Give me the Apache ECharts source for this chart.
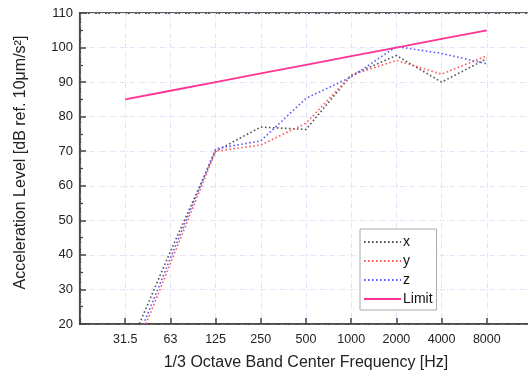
<!DOCTYPE html>
<html>
<head>
<meta charset="utf-8">
<script src="https://cdn.jsdelivr.net/npm/echarts@6/dist/echarts.min.js"></script>
<style>
  html, body { margin: 0; padding: 0; background: #fff; }
  #chart { width: 528px; height: 370px; }
</style>
</head>
<body>
<div id="chart"></div>
<script>
// octave band centre frequencies, x position = index in this list
const bands = ['31.5', '63', '125', '250', '500', '1000', '2000', '4000', '8000']

const xData = [10.5, 41, 70, 77, 76.3, 92, 97.7, 90, 96.8]
const yData = [5, 37.5, 70, 71.8, 78.1, 92, 96.3, 92.3, 97.6]
const zData = [7, 39, 70.7, 73, 85.3, 91.5, 100.3, 98.3, 95.3]
const limitData = [85, 87.5, 90, 92.5, 95, 97.5, 100, 102.5, 105]

const font = 'Liberation Sans, Arial, sans-serif'
const chart = echarts.init(document.getElementById('chart'))

const toPoints = arr => arr.map((v, i) => [i, v])

const dotted = (name, color, data) => ({
  name,
  type: 'line',
  data: toPoints(data),
  symbol: 'none',
  lineStyle: { color, width: 1.6, type: [1.6, 2.4] },
  itemStyle: { color }
})

// plot is cut off on the right in the original, so the grid runs a bit past the canvas
chart.setOption({
  animation: false,
  textStyle: { fontFamily: font },
  grid: {
    left: 80,
    width: 452,
    top: 13,
    bottom: 46,
    outerBoundsMode: 'none',
    show: true,
    borderColor: '#5a5a5a',
    borderWidth: 2.2
  },
  legend: {
    orient: 'vertical',
    left: 360,
    top: 229,
    padding: [6, 4, 4, 3],
    itemWidth: 37,
    itemHeight: 10,
    itemGap: 5,
    borderColor: '#aaa',
    borderWidth: 1,
    backgroundColor: '#fff',
    itemStyle: { opacity: 0 },
    textStyle: { fontSize: 14, color: '#111', padding: [0, 0, 0, -3] },
    data: ['x', 'y', 'z', 'Limit']
  },
  xAxis: {
    type: 'value',
    min: -1,
    max: 9,
    interval: 1,
    name: '1/3 Octave Band Center Frequency [Hz]',
    nameLocation: 'middle',
    nameGap: 31,
    nameTextStyle: { fontSize: 16, color: '#222' },
    axisLine: { onZero: false, lineStyle: { color: '#444', width: 1.5 } },
    axisTick: { inside: true, length: 6, lineStyle: { color: '#444', width: 1.5 } },
    axisLabel: {
      fontSize: 12.5,
      color: '#222',
      margin: 9,
      formatter: v => (v >= 0 && v < bands.length ? bands[v] : '')
    },
    splitLine: { show: true, lineStyle: { color: '#e2e2f8', width: 1, type: [5, 2, 1, 2] } }
  },
  yAxis: {
    type: 'value',
    min: 20,
    max: 110,
    interval: 10,
    name: 'Acceleration Level [dB ref. 10μm/s²]',
    nameLocation: 'middle',
    nameGap: 51,
    nameTextStyle: { fontSize: 16, color: '#222', padding: [0, 0, 0, 12] },
    axisLine: { show: true, onZero: false, lineStyle: { color: '#444', width: 1.5 } },
    axisTick: { show: true, inside: true, length: 6, lineStyle: { color: '#444', width: 1.5 } },
    minorTick: { show: true, splitNumber: 2, length: 3, lineStyle: { color: '#444', width: 1.2 } },
    axisLabel: { fontSize: 13, color: '#222', margin: 7 },
    splitLine: { show: true, lineStyle: { color: '#e2e2f8', width: 1, type: [5, 2, 1, 2] } }
  },
  series: [
    dotted('x', '#555', xData),
    dotted('y', '#ff5c5c', yData),
    dotted('z', '#5c5cff', zData),
    {
      name: 'Limit',
      type: 'line',
      data: toPoints(limitData),
      symbol: 'none',
      lineStyle: { color: '#ff3393', width: 1.8 },
      itemStyle: { color: '#ff3393' }
    }
  ]
})
</script>
</body>
</html>
